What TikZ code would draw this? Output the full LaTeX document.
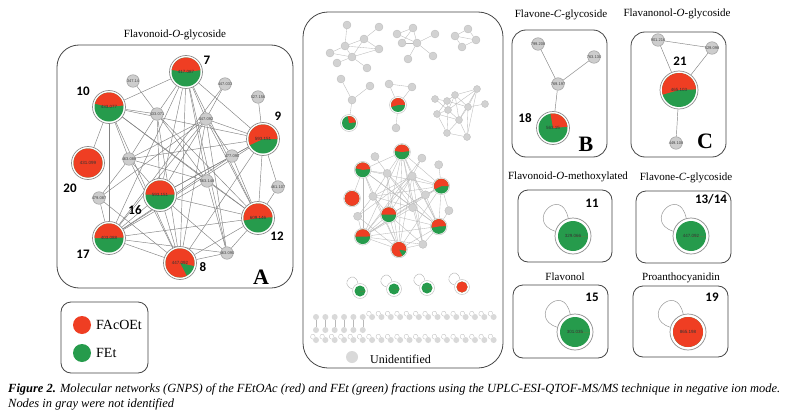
\documentclass[tikz,border=0pt]{standalone}
\usepackage{fontspec}
\setmainfont{Liberation Serif}
\newfontfamily\numfont{Carlito}
\newfontfamily\lblfont{Liberation Sans}
\usetikzlibrary{backgrounds,calc}

\definecolor{fred}{RGB}{239,62,35}
\definecolor{fgreen}{RGB}{38,155,76}
\definecolor{gfill}{RGB}{205,205,205}
\definecolor{gdraw}{RGB}{160,160,160}
\definecolor{edgec}{RGB}{130,130,130}
\definecolor{ringc}{RGB}{140,140,140}
\definecolor{boxc}{RGB}{70,70,70}

\newcommand\showlbl[1]{#1}
\newcommand\hidelbl[1]{}
\let\lbl\showlbl

% name, x, y, r, R(ring), start, end, label
\newcommand\pie[8]{%
  \node[ring, minimum size={2*(#5)}] (#1) at (#2,-#3) {};
  \fill[fgreen] (#1.center) circle[radius=#4];
  \fill[fred] (#1.center) -- ++(#6:#4) arc[start angle=#6, end angle=#7, radius=#4] -- cycle;
  \node[plbl] at (#1.center) {\lbl{#8}};
}
% gray node: name, x, y, label
\newcommand\gn[4]{%
  \node[gnode] (#1) at (#2,-#3) {};
  \node[glbl] at (#1.center) {\lbl{#4}};
}
% self loop: node, size
\newcommand\selfloop[2]{%
  \draw[loopc] (#1.165) .. controls ($(#1.165)+(-1.1*#2,0.35*#2)$) and ($(#1.105)+(-0.25*#2,1.2*#2)$) .. (#1.105);
}

\newcommand\network[1]{%
  \pie{#1n7}{186}{72}{14.5}{16.5}{7}{172}{417.087}
  \pie{#1n10}{109}{107}{14.5}{16.5}{6}{167}{433.077}
  \pie{#1n20}{88}{163}{14.5}{16.5}{0}{360}{431.099}
  \pie{#1n9}{263}{139}{14.5}{16.5}{0}{205}{593.151}
  \pie{#1n16}{160}{195}{14.5}{16.5}{2}{178}{593.151}
  \pie{#1n12}{258}{218}{14.5}{16.5}{3}{190}{609.146}
  \pie{#1n17}{109}{238}{14.5}{16.5}{2}{180}{403.088}
  \pie{#1n8}{180}{263}{14.5}{16.5}{-12}{298}{447.092}
  \gn{#1g347}{133}{81}{347.14}
  \gn{#1g447a}{225}{84}{447.033}
  \gn{#1g433}{157}{114}{433.071}
  \gn{#1g447b}{206}{119}{447.092}
  \gn{#1g527}{258}{97}{527.156}
  \gn{#1g463a}{129}{159}{463.088}
  \gn{#1g477}{232}{156}{477.090}
  \gn{#1g563}{207}{181}{563.148}
  \gn{#1g461}{278}{187}{461.107}
  \gn{#1g479}{99}{198}{479.087}
  \gn{#1g463b}{227}{253}{463.090}
  \begin{scope}[on background layer]
    \foreach \u/\v in {n7/n10,n7/g433,n7/g447b,n7/n9,n7/n16,n7/n17,n7/n8,n7/n12,n7/g463b,n7/g563,
      n10/g433,n10/n20,n10/n17,n10/g463a,n10/g563,n10/n12,n10/n9,n10/n8,
      g347/g563,g447a/g447b,g447a/n17,g527/n9,
      g433/n16,g433/n8,g433/n12,g433/g463a,
      g447b/n9,g447b/n17,g447b/g479,g447b/g463a,g447b/n16,g447b/n8,g447b/n12,g447b/g463b,g447b/g477,
      g463a/n9,g463a/n16,g463a/g479,g463a/n8,g463a/g563,
      g477/n9,g477/n16,g477/n17,g477/n12,
      g563/n12,g563/n17,g563/g463b,g461/n9,g461/n12,
      n9/n12,n9/n16,n9/n8,n9/n17,g479/n17,g479/n8,
      n16/n12,n16/n17,n16/n8,n16/g463b,n12/n8,n12/g463b,n12/n17,n17/n8,n17/g463b,n8/g463b}
      \draw[edge] (#1\u) -- (#1\v);
  \end{scope}
}

\tikzset{
  ring/.style={circle, draw=ringc, line width=0.7pt, fill=white, inner sep=0pt},
  plbl/.style={inner sep=0pt, font=\lblfont\fontsize{4.5}{5}\selectfont, text=black!80},
  gnode/.style={circle, fill=gfill, draw=gdraw, line width=0.5pt, inner sep=0pt, minimum size=12.5},
  glbl/.style={inner sep=0pt, font=\lblfont\fontsize{4}{4.5}\selectfont, text=black!75},
  edge/.style={draw=edgec, line width=0.45pt},
  loopc/.style={draw=gray!80, line width=0.5pt},
  panel/.style={draw=boxc, line width=0.8pt, rounded corners=#1},
  title/.style={font=\fontsize{11}{13}\selectfont, inner sep=0pt},
  num/.style={font=\numfont\bfseries\fontsize{13}{15}\selectfont, inner sep=0pt},
  letter/.style={font=\bfseries\fontsize{22}{24}\selectfont, inner sep=0pt},
  mnode/.style={circle, fill=gray!35, draw=gray!55, line width=0.3pt, inner sep=0pt, minimum size=8},
  medge/.style={draw=gray!55, line width=0.35pt},
  rnode/.style={circle, fill=gray!30, inner sep=0pt, minimum size=6},
}

\begin{document}
\begin{tikzpicture}[x=1pt, y=1pt]
\useasboundingbox (0,0) rectangle (787,-420);
\begin{scope}[on background layer]
\fill[white] (0,0) rectangle (787,-420);
\end{scope}

% ---------------- Panel A ----------------
\node[title] (tA) at (175,-35) {Flavonoid-\textit{O}-glycoside};
\draw[panel=22] (57,-45) rectangle (293,-288);
\let\lbl\showlbl
\network{A}
\node[num] (l7) at (207,-60) {7};
\node[num] (l10) at (83,-91) {10};
\node[num] (l9) at (278,-116) {9};
\node[num] (l20) at (70,-188) {20};
\node[num] (l16) at (135,-210) {16};
\node[num] (l12) at (277,-236) {12};
\node[num] (l17) at (83,-254) {17};
\node[num] (l8) at (203,-267) {8};
\node[letter] (lA) at (261,-277) {A};

% legend
\draw[panel=10] (61,-302) rectangle (148,-373);
\node[circle, fill=fred, inner sep=0pt, minimum size=18] (legR) at (82,-325) {};
\node[anchor=west, inner sep=0pt, font=\fontsize{14}{16}\selectfont] (legRt) at (96,-325) {FAcOEt};
\node[circle, fill=fgreen, inner sep=0pt, minimum size=18] (legG) at (82,-353) {};
\node[anchor=west, inner sep=0pt, font=\fontsize{14}{16}\selectfont] (legGt) at (96,-353) {FEt};

% ---------------- Middle panel ----------------
\draw[panel=25] (303,-12) rectangle (503,-368);
\begin{scope}[shift={(307.14,-115.28)}, scale=0.51, transform shape,
   gnode/.style={circle, fill=gray!35, draw=gray!55, line width=0.3pt, inner sep=0pt, minimum size=16},
   ring/.style={circle, draw=gray!45, line width=0.5pt, fill=white, inner sep=0pt},
   edge/.style={draw=gray!55, line width=0.35pt}]
  \let\lbl\hidelbl
  \network{M}
\end{scope}
\let\lbl\showlbl

% cluster 1
\foreach \n/\x/\y in {a/347/25,b/379/27,c/364/39,d/345/46,e/330/53,f/379/49,g/352/57,h/337/63,i/367/68}
  \node[mnode] (c1\n) at (\x,-\y) {};
\begin{scope}[on background layer]
\foreach \u/\v in {a/d,b/c,c/d,c/f,c/g,d/g,d/f,e/g,h/g,g/i,g/f,e/d}
  \draw[medge] (c1\u) -- (c1\v);
\end{scope}
% cluster 2
\foreach \n/\x/\y in {a/397/34,b/413/28,c/435/34,d/402/43,e/417/43,f/408/59,g/433/56}
  \node[mnode] (c2\n) at (\x,-\y) {};
\begin{scope}[on background layer]
\foreach \u/\v in {a/b,b/d,a/e,b/e,c/e,e/f,e/g,d/e}
  \draw[medge] (c2\u) -- (c2\v);
\end{scope}
% cluster 3
\foreach \n/\x/\y in {a/468/29,b/455/36,c/476/40,d/462/47}
  \node[mnode] (c3\n) at (\x,-\y) {};
\begin{scope}[on background layer]
\foreach \u/\v in {a/b,a/c,b/c,b/d,c/d}
  \draw[medge] (c3\u) -- (c3\v);
\end{scope}
% cluster 4
\node[mnode] (c4a) at (341,-79) {};
\node[mnode] (c4b) at (370,-86) {};
\node[mnode] (c4c) at (352,-100) {};
\begin{scope}[ring/.style={circle, draw=gray!45, line width=0.5pt, fill=white, inner sep=0pt}]
\pie{c4p}{349}{123}{7}{8.5}{5}{100}{}
\end{scope}
\begin{scope}[on background layer]
\draw[medge] (c4a) -- (c4c); \draw[medge] (c4b) -- (c4c); \draw[medge] (c4c) -- (c4p);
\end{scope}
% cluster 5
\node[mnode] (c5a) at (389,-84) {};
\node[mnode] (c5b) at (412,-87) {};
\node[mnode] (c5d) at (396,-128) {};
\begin{scope}[ring/.style={circle, draw=gray!45, line width=0.5pt, fill=white, inner sep=0pt}]
\pie{c5p}{398}{105}{7}{8.5}{2}{196}{}
\end{scope}
\begin{scope}[on background layer]
\draw[medge] (c5a) -- (c5b); \draw[medge] (c5a) -- (c5p); \draw[medge] (c5b) -- (c5p); \draw[medge] (c5p) -- (c5d);
\end{scope}
% cluster 6
\foreach \n/\x/\y in {1/435/99,2/447/101,3/455/95,4/477/89,5/485/104,6/468/107,7/437/114,8/448/110,9/459/120,10/447/133,11/467/137}
  \node[mnode, minimum size=7] (c6n\n) at (\x,-\y) {};
\begin{scope}[on background layer]
\foreach \u/\v in {1/2,2/3,2/6,3/6,3/8,4/6,4/9,4/11,5/6,2/8,7/8,7/9,7/10,8/9,8/10,9/10,9/11,6/9,3/9,2/7,6/11,4/8,10/11,1/8,3/4}
  \draw[medge] (c6n\u) -- (c6n\v);
\end{scope}

% singletons with loops
\begin{scope}[ring/.style={circle, draw=gray!45, line width=0.5pt, fill=white, inner sep=0pt}]
\pie{s1}{360}{291}{5.5}{7.5}{0}{0}{}
\pie{s2}{394}{289}{5.5}{7.5}{0}{0}{}
\pie{s3}{427}{288}{5.5}{7.5}{0}{0}{}
\pie{s4}{462}{287}{5.5}{7.5}{0}{360}{}
\end{scope}
\begin{scope}[loopc/.style={draw=gray!60, line width=0.4pt}]
\selfloop{s1}{13}\selfloop{s2}{13}\selfloop{s3}{13}\selfloop{s4}{13}
\end{scope}

% rows of unidentified singletons
\foreach \i in {0,...,19} {
  \node[rnode] (ra\i) at ({316+9.35*\i},-317) {};
  \node[rnode] (rc\i) at ({316+9.35*\i},-340) {};
}
\foreach \i in {0,...,5} {
  \node[rnode] (rb\i) at ({316+9.35*\i},-330) {};
  \draw[medge] (ra\i) -- (rb\i);
}
\begin{scope}[loopc/.style={draw=gray!50, line width=0.35pt}]
\foreach \i in {6,...,19} { \selfloop{ra\i}{5.5} }
\foreach \i in {0,...,19} { \selfloop{rc\i}{5.5} }
\end{scope}

\node[circle, fill=gray!30, inner sep=0pt, minimum size=12] (unid) at (352,-357) {};
\node[anchor=west, inner sep=0pt, font=\fontsize{12}{14}\selectfont] (unidt) at (370,-359) {Unidentified};

% ---------------- Panel B ----------------
\node[title] (tB) at (561,-15) {Flavone-\textit{C}-glycoside};
\draw[panel=14] (512,-30) rectangle (607,-157);
\gn{b1}{538}{44}{799.208}
\gn{b2}{594}{57}{763.130}
\gn{b3}{558}{84}{769.197}
\pie{b18}{553}{128}{14.5}{16.5}{5}{100}{563.15}
\begin{scope}[on background layer]
\draw[edge] (b1) -- (b3); \draw[edge] (b2) -- (b3); \draw[edge] (b3) -- (b18);
\end{scope}
\node[num] (l18) at (525,-118) {18};
\node[letter] (lB) at (586,-144) {B};

% ---------------- Panel C ----------------
\node[title] (tC) at (677,-14) {Flavanonol-\textit{O}-glycoside};
\draw[panel=14] (631,-32) rectangle (726,-157);
\gn{cc1}{658}{40}{901.216}
\gn{cc2}{712}{48}{529.098}
\gn{cc3}{676}{143}{449.108}
\pie{c21}{679}{90}{17}{19}{2}{196}{465.103}
\begin{scope}[on background layer]
\draw[edge] (cc1) -- (cc2); \draw[edge] (cc1) -- (c21); \draw[edge] (cc2) -- (c21); \draw[edge] (c21) -- (cc3);
\end{scope}
\node[num] (l21) at (680,-61) {21};
\node[letter] (lC) at (705,-141) {C};

% ---------------- small panels ----------------
\node[title] (t11) at (568,-177) {Flavonoid-\textit{O}-methoxylated};
\draw[panel=10] (518,-190) rectangle (612,-262);
\pie{p11}{573}{236}{15}{18}{0}{0}{329.066}
\selfloop{p11}{28}
\node[num] (l11) at (592,-203) {11};

\node[title] (t1314) at (686,-178) {Flavone-\textit{C}-glycoside};
\draw[panel=10] (636,-191) rectangle (731,-263);
\pie{p13}{691}{236}{15}{18}{0}{0}{447.092}
\selfloop{p13}{28}
\node[num] (l13) at (711,-199) {13/14};

\node[title] (t15) at (565,-277) {Flavonol};
\draw[panel=10] (513,-285) rectangle (608,-358);
\pie{p15}{575}{332}{15}{18}{0}{0}{301.035}
\selfloop{p15}{28}
\node[num] (l15) at (592,-297) {15};

\node[title] (t19) at (681,-278) {Proanthocyanidin};
\draw[panel=10] (633,-286) rectangle (728,-357);
\pie{p19}{688}{332}{15}{18}{0}{360}{865.198}
\selfloop{p19}{28}
\node[num] (l19) at (712,-297) {19};

% ---------------- caption ----------------
\node[anchor=north west, inner sep=0pt] (cap) at (8,-382) {\resizebox{772pt}{!}{\begin{tabular}{@{}l@{}}
\itshape\textbf{Figure 2.} Molecular networks (GNPS) of the FEtOAc (red) and FEt (green) fractions using the UPLC-ESI-QTOF-MS/MS technique in negative ion mode.\\
\itshape Nodes in gray were not identified
\end{tabular}}};
\end{tikzpicture}
\end{document}
